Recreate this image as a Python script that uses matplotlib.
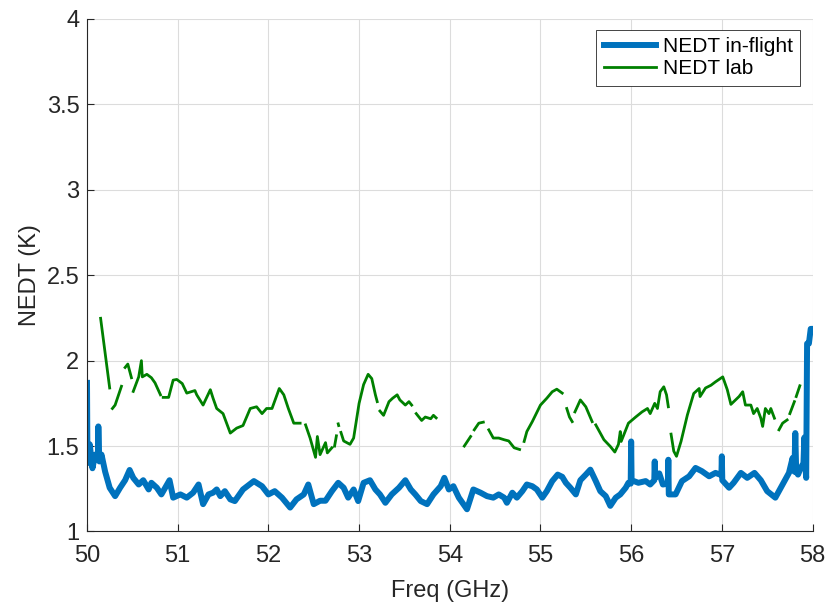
import numpy as np
import matplotlib
import matplotlib.pyplot as plt

matplotlib.use('Agg')

plt.rcParams['font.family'] = ['Liberation Sans', 'DejaVu Sans']

# NEDT medido en vuelo (GHz, K)
freq_flight = [50.0, 50.005, 50.03, 50.06, 50.09, 50.12, 50.125, 50.136, 50.16, 50.2,
               50.25, 50.31, 50.365, 50.42, 50.47, 50.51, 50.57, 50.62, 50.68, 50.71,
               50.77, 50.82, 50.91, 50.95, 51.03, 51.10, 51.17, 51.23, 51.28, 51.34,
               51.39, 51.43, 51.47, 51.52, 51.58, 51.63, 51.72, 51.84, 51.93, 52.0,
               52.07, 52.15, 52.24, 52.31, 52.39, 52.44, 52.50, 52.57, 52.63, 52.70,
               52.77, 52.83, 52.88, 52.94, 52.99, 53.05, 53.12, 53.18, 53.23, 53.29,
               53.36, 53.44, 53.51, 53.57, 53.62, 53.68, 53.75, 53.82, 53.90, 53.94,
               53.99, 54.04, 54.10, 54.15, 54.19, 54.26, 54.34, 54.41, 54.48, 54.54,
               54.60, 54.63, 54.69, 54.74, 54.80, 54.85, 54.91, 54.96, 55.02, 55.07,
               55.13, 55.19, 55.24, 55.28, 55.33, 55.39, 55.44, 55.50, 55.55, 55.61,
               55.66, 55.72, 55.77, 55.83, 55.88, 55.94, 55.97, 55.995, 56.0, 56.005,
               56.08, 56.16, 56.21, 56.255, 56.26, 56.265, 56.31, 56.35, 56.405, 56.41,
               56.415, 56.49, 56.56, 56.64, 56.71, 56.78, 56.86, 56.93, 56.995, 57.0,
               57.005, 57.08, 57.13, 57.21, 57.28, 57.36, 57.43, 57.50, 57.59, 57.67,
               57.74, 57.78, 57.80, 57.81, 57.82, 57.84, 57.87, 57.90, 57.91, 57.92,
               57.93, 57.94, 57.96, 57.98, 58.0]
nedt_flight = [1.87, 1.40, 1.51, 1.37, 1.45, 1.43, 1.615, 1.41, 1.45, 1.35,
               1.256, 1.207, 1.256, 1.30, 1.36, 1.314, 1.275, 1.30, 1.246, 1.285,
               1.256, 1.217, 1.30, 1.198, 1.217, 1.198, 1.227, 1.275, 1.16, 1.217,
               1.227, 1.246, 1.207, 1.236, 1.188, 1.178, 1.246, 1.295, 1.265, 1.217,
               1.236, 1.198, 1.14, 1.188, 1.217, 1.275, 1.16, 1.18, 1.18, 1.236,
               1.285, 1.256, 1.198, 1.246, 1.178, 1.285, 1.30, 1.246, 1.217, 1.168,
               1.217, 1.256, 1.30, 1.246, 1.217, 1.178, 1.16, 1.217, 1.265, 1.314,
               1.246, 1.265, 1.198, 1.16, 1.13, 1.246, 1.227, 1.207, 1.198, 1.217,
               1.198, 1.168, 1.227, 1.198, 1.236, 1.275, 1.265, 1.246, 1.198, 1.236,
               1.295, 1.333, 1.32, 1.285, 1.256, 1.217, 1.30, 1.333, 1.362, 1.295,
               1.236, 1.207, 1.15, 1.198, 1.217, 1.256, 1.285, 1.28, 1.527, 1.30,
               1.285, 1.295, 1.275, 1.30, 1.41, 1.314, 1.34, 1.275, 1.28, 1.42,
               1.217, 1.217, 1.295, 1.323, 1.372, 1.353, 1.323, 1.343, 1.33, 1.44,
               1.30, 1.256, 1.285, 1.343, 1.314, 1.343, 1.30, 1.236, 1.198, 1.275,
               1.343, 1.43, 1.35, 1.576, 1.35, 1.333, 1.372, 1.40, 1.55, 1.40,
               1.314, 2.10, 2.10, 2.186, 2.186]

# NEDT de laboratorio (None = hueco sin datos)
freq_lab = [50.15, 50.25, None,
            50.28, 50.31, 50.38, None,
            50.42, 50.45, 50.49, None,
            50.51, 50.57, 50.60, 50.61, 50.66, 50.71, 50.75, 50.81, None,
            50.84, 50.90, 50.95, 50.99, 51.05, 51.10, 51.16, 51.19, 51.21, 51.28,
            51.36, 51.39, 51.43, 51.50, 51.58, 51.65, 51.72, 51.80, 51.87, 51.93,
            51.98, 52.04, 52.12, 52.17, 52.22, 52.28, 52.35, None,
            52.41, 52.46, 52.52, 52.54, 52.57, 52.63, 52.65, 52.70, None,
            52.73, 52.75, None,
            52.77, 52.775, None,
            52.80, 52.83, 52.90, 52.94, 53.0, 53.05, 53.10, 53.14, 53.18, 53.20, None,
            53.23, 53.27, 53.33, 53.37, 53.42, 53.45, 53.51, 53.55, 53.58, None,
            53.63, 53.69, 53.73, 53.79, 53.82, 53.85, None,
            54.16, 54.23, None,
            54.27, 54.32, 54.37, None,
            54.43, 54.48, 54.54, 54.60, 54.65, 54.71, 54.77, None,
            54.82, 54.85, 54.91, 55.0, 55.07, 55.13, 55.18, 55.24, None,
            55.29, 55.32, 55.35, None,
            55.38, 55.44, 55.50, 55.57, None,
            55.61, 55.70, 55.77, 55.82, 55.86, 55.88, 55.89, 55.97, 56.05, 56.12,
            56.18, 56.21, 56.26, 56.29, 56.32, 56.36, 56.39, 56.41, None,
            56.44, 56.47, 56.50, 56.55, 56.62, 56.69, 56.75, 56.76, 56.82, 56.88,
            56.93, 57.01, 57.06, 57.10, 57.15, 57.19, 57.23, 57.26, 57.32, 57.35,
            57.39, 57.43, 57.45, 57.48, 57.52, 57.54, 57.58, None,
            57.63, 57.67, 57.72, None,
            57.75, 57.80, None,
            57.82, 57.86]
nedt_lab = [2.248, 1.84, None,
            1.72, 1.74, 1.85, None,
            1.96, 1.98, 1.90, None,
            1.82, 1.905, 2.0, 1.905, 1.92, 1.90, 1.87, 1.80, None,
            1.785, 1.785, 1.886, 1.89, 1.866, 1.81, 1.82, 1.825, 1.80, 1.74,
            1.83, 1.78, 1.72, 1.69, 1.576, 1.605, 1.62, 1.72, 1.73, 1.69,
            1.72, 1.72, 1.837, 1.80, 1.72, 1.634, 1.634, None,
            1.624, 1.547, 1.434, 1.556, 1.45, 1.52, 1.46, 1.49, None,
            1.50, 1.56, None,
            1.63, 1.62, None,
            1.58, 1.53, 1.51, 1.547, 1.75, 1.86, 1.92, 1.895, 1.80, 1.76, None,
            1.705, 1.68, 1.76, 1.78, 1.80, 1.77, 1.74, 1.76, 1.74, None,
            1.69, 1.65, 1.67, 1.66, 1.68, 1.665, None,
            1.50, 1.556, None,
            1.595, 1.634, 1.64, None,
            1.595, 1.547, 1.547, 1.537, 1.53, 1.49, 1.48, None,
            1.527, 1.585, 1.643, 1.74, 1.78, 1.818, 1.833, 1.81, None,
            1.72, 1.67, 1.643, None,
            1.70, 1.77, 1.73, 1.643, None,
            1.624, 1.537, 1.498, 1.465, 1.51, 1.585, 1.527, 1.634, 1.67, 1.70,
            1.72, 1.69, 1.75, 1.72, 1.818, 1.847, 1.80, 1.73, None,
            1.57, 1.47, 1.44, 1.527, 1.682, 1.808, 1.837, 1.79, 1.84, 1.856,
            1.876, 1.905, 1.83, 1.744, 1.77, 1.79, 1.818, 1.74, 1.74, 1.69,
            1.72, 1.663, 1.615, 1.72, 1.69, 1.72, 1.663, None,
            1.595, 1.634, 1.653, None,
            1.69, 1.76, None,
            1.79, 1.853]

freq_lab = np.array(freq_lab, dtype=float)
nedt_lab = np.array(nedt_lab, dtype=float)

fig = plt.figure(figsize=(8.27, 6.03), dpi=100)
ax = fig.add_axes([0.1052, 0.1186, 0.8773, 0.8499])

ax.plot(freq_flight, nedt_flight, color='#0072BD', linewidth=4.3,
        solid_joinstyle='round', label='NEDT in-flight')
ax.plot(freq_lab, nedt_lab, color='#008000', linewidth=2.0,
        label='NEDT lab')

ax.set_xlim(50, 58)
ax.set_ylim(1, 4)
ax.set_xticks(range(50, 59))
ax.set_yticks([1, 1.5, 2, 2.5, 3, 3.5, 4])
ax.set_yticklabels(['1', '1.5', '2', '2.5', '3', '3.5', '4'])

ax.grid(True, color='#dcdcdc', linewidth=0.8)
ax.set_axisbelow(True)
ax.spines['top'].set_visible(False)
ax.spines['right'].set_visible(False)
for s in ['left', 'bottom']:
    ax.spines[s].set_color('#262626')
    ax.spines[s].set_linewidth(0.8)
ax.tick_params(direction='in', length=5, width=0.8, color='#262626',
               labelsize=17, labelcolor='#262626')
ax.tick_params(axis='y', pad=5.5)
ax.tick_params(axis='x', pad=10)

ax.set_xlabel('Freq (GHz)', fontsize=17, color='#262626', labelpad=9)
ax.set_ylabel('NEDT (K)', fontsize=17, color='#262626')

leg = ax.legend(loc='upper right', bbox_to_anchor=(0.9828, 0.9785),
                borderaxespad=0, fontsize=15, fancybox=False,
                handlelength=2.5, framealpha=1, borderpad=0.35,
                labelspacing=0.15, handletextpad=0.34)
leg.get_frame().set_edgecolor('#262626')
leg.get_frame().set_linewidth(0.6)

plt.savefig('out.png', dpi=100)
